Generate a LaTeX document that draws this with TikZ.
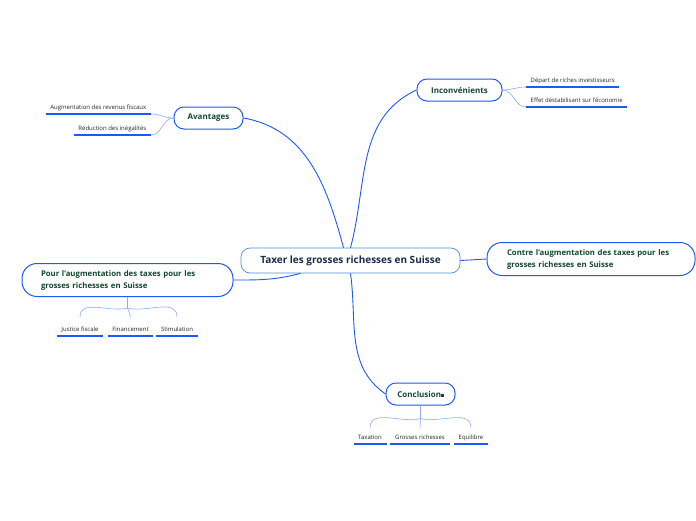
\documentclass[tikz,border=0pt]{standalone}
\usepackage{fontspec}
\setmainfont{Open Sans}
\usetikzlibrary{positioning}

\definecolor{mapblue}{HTML}{1F5AF0}
\definecolor{twigblue}{HTML}{8FAEF2}
\definecolor{rootblue}{HTML}{4A8FD8}
\definecolor{txtgreen}{HTML}{15472F}
\definecolor{txtnavy}{HTML}{1B2B4B}

\begin{document}
\begin{tikzpicture}[
  x=1pt, y=-1pt,
  every node/.style={align=center},
  root/.style ={rectangle, rounded corners=9pt, draw=rootblue, line width=0.7pt,
                fill=white, text=txtnavy, font=\fontsize{10}{12}\selectfont\bfseries,
                minimum width=219pt, minimum height=25pt, inner sep=2pt},
  topic/.style={rectangle, rounded corners=10pt, draw=mapblue, line width=1pt,
                fill=white, text=txtgreen, font=\fontsize{8}{10}\selectfont\bfseries,
                minimum height=22pt, inner xsep=6pt},
  wide/.style ={rectangle, rounded corners=15pt, draw=mapblue, line width=1pt,
                fill=white, text=txtgreen, font=\fontsize{7.8}{12}\selectfont\bfseries,
                align=left, minimum height=33pt, inner ysep=3pt},
  leaf/.style ={font=\fontsize{6}{7}\selectfont, text=black!85,
                text height=4.4pt, text depth=1.4pt, inner xsep=4.5pt, inner ysep=2.8pt},
  uline/.style ={draw=mapblue, line width=1.5pt},
  branch/.style={draw=mapblue, line width=0.9pt},
  twig/.style  ={draw=twigblue, line width=0.6pt},
]
\fill[white] (0,0) rectangle (696,520);
\useasboundingbox (0,0) rectangle (696,520);

% Central topic and main branches
\node[root]  (ctr)  at (350.5,260.5) {Taxer les grosses richesses en Suisse};
\node[topic, minimum width=69pt] (av)   at (208.5,118) {Avantages};
\node[topic, minimum width=85pt] (inc)  at (459.5,90)  {Inconvénients};
\node[wide,  text width=168pt, inner xsep=20pt] (con) at (591,259)
     {Contre l'augmentation des taxes pour les\\grosses richesses en Suisse};
\node[wide,  text width=173pt, inner xsep=19pt] (pro) at (127.5,280)
     {Pour l'augmentation des taxes pour les\\grosses richesses en Suisse};
\node[topic, minimum width=69pt] (conc) at (420.5,394)
     {Conclusion\rule{2.5pt}{3pt}};

% Leaves
\node[leaf, anchor=south east] (a1) at (151,114) {Augmentation des revenus fiscaux};
\node[leaf, anchor=south east] (a2) at (151,135) {Réduction des inégalités};
\node[leaf, anchor=south west] (i1) at (526,87)  {Départ de riches investisseurs};
\node[leaf, anchor=south west] (i2) at (526,107) {Effet déstabilisant sur l'économie};
\node[leaf, anchor=south] (p1) at (80,336)  {Justice fiscale};
\node[leaf, anchor=south] (p2) at (130.5,336) {Financement};
\node[leaf, anchor=south] (p3) at (177,336) {Stimulation};
\node[leaf, anchor=south] (c1) at (370,444) {Taxation};
\node[leaf, anchor=south] (c2) at (420,444) {Grosses richesses};
\node[leaf, anchor=south] (c3) at (471,444) {Equilibre};

\foreach \n in {a1,a2,i1,i2,p1,p2,p3,c1,c2,c3}
  \draw[uline] (\n.south west) -- (\n.south east);

% -------- branches ----------------------------------------------------------
\draw[branch] ([xshift=-7pt]ctr.north) to[out=105,in=-10] (av.east);
\draw[branch] (ctr.north)              to[out=75,in=205]  (inc.west);
\draw[branch] (ctr.east) -- (con.west);
\draw[branch] ([xshift=-50pt]ctr.south) to[out=195,in=0] (pro.east);
\draw[branch] (ctr.south)              to[out=-82,in=145] (conc.west);

% -------- twigs -------------------------------------------------------------
\draw[twig] (av.west) to[out=180,in=0] (a1.south east);
\draw[twig] (av.west) to[out=180,in=0] (a2.south east);
\draw[twig] (inc.east) to[out=0,in=180] (i1.south west);
\draw[twig] (inc.east) to[out=0,in=180] (i2.south west);

\coordinate (ps) at ([yshift=-11pt]pro.south);
\draw[twig] (pro.south) -- (ps);
\foreach \n/\a in {p1/195,p2/-80,p3/-15}
  \draw[twig] (ps) to[out=\a,in=90] ([yshift=7pt]\n.north);

\coordinate (cs) at ([yshift=-13pt]conc.south);
\draw[twig] (conc.south) -- (cs);
\foreach \n/\a in {c1/195,c2/-90,c3/-15}
  \draw[twig] (cs) to[out=\a,in=90] ([yshift=4pt]\n.north);

\end{tikzpicture}
\end{document}
